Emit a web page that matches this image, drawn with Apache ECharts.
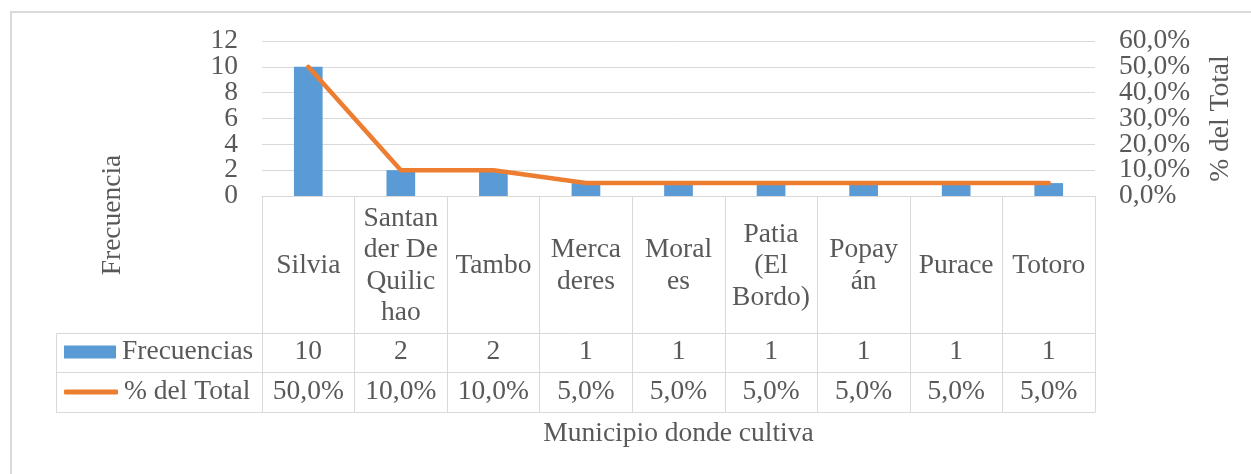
<!DOCTYPE html>
<html>
<head>
<meta charset="utf-8">
<title>Municipio donde cultiva</title>
<script src="https://cdn.jsdelivr.net/npm/echarts@6/dist/echarts.min.js"></script>
<style>
    html, body { margin: 0; padding: 0; background: #fff; }
    #chart { width: 1251px; height: 474px; }
</style>
</head>
<body>
<div id="chart"></div>
<script>
// Datos
const categorias = ['Silvia', 'Santan\nder De\nQuilic\nhao', 'Tambo', 'Merca\nderes', 'Moral\nes', 'Patia\n(El\nBordo)', 'Popay\nán', 'Purace', 'Totoro'];
const frecuencias = [10, 2, 2, 1, 1, 1, 1, 1, 1];
const porcentajes = [50, 10, 10, 5, 5, 5, 5, 5, 5];

// ejes
const leftTicks = [0, 12, 2];   // min, max, interval
const rightTicks = [0, 60, 10];
const leftLabels = ['0', '2', '4', '6', '8', '10', '12'];
const rightLabels = ['0,0%', '10,0%', '20,0%', '30,0%', '40,0%', '50,0%', '60,0%'];

function pct(v) {
    return v.toFixed(1).replace('.', ',') + '%';
}

function initChart() {
    const chartDom = document.getElementById('chart');
    const myChart = echarts.init(chartDom);

    const txt = '#595959';
    const lineCol = '#d9d9d9';
    const font = 'Liberation Serif, Times New Roman, serif';
    const fs = 27.5;

    // area del grafico (pixeles)
    const L = 262, R = 1095, T = 41, B = 196;
    const rows = [333, 372, 412];

    // eje de etiquetas (categoria) para que se muestren todas aunque se toquen
    function labelAxis(labels, pos) {
        return {
            type: 'category',
            data: labels,
            position: pos,
            boundaryGap: false,
            axisLine: { show: false },
            axisTick: { show: false },
            splitLine: { show: false },
            axisLabel: { interval: 0, margin: 24, fontSize: fs, color: txt, fontFamily: font }
        };
    }

    const option = {
        textStyle: { fontFamily: font },
        backgroundColor: '#fff',
        animation: false,
        grid: {
            left: L,
            right: 1251 - R,
            top: T,
            bottom: 474 - B,
            containLabel: false,
            outerBoundsMode: 'none'
        },
        legend: [
            {
                data: [{ name: 'Frecuencias', icon: 'rect' }],
                left: 64,
                top: 338,
                padding: 0,
                itemWidth: 52,
                itemHeight: 13,
                selectedMode: false,
                textStyle: { fontSize: fs, color: txt, fontFamily: font, lineHeight: 28, padding: [0, 0, 0, 1] }
            },
            {
                data: [{ name: '% del Total', icon: 'roundRect' }],
                left: 64,
                top: 378,
                padding: 0,
                itemWidth: 54,
                itemHeight: 5,
                selectedMode: false,
                textStyle: { fontSize: fs, color: txt, fontFamily: font, lineHeight: 28, padding: [0, 0, 0, 1] }
            }
        ],
        xAxis: [
            {
                // fila de categorias + lineas verticales de la tabla
                type: 'category',
                data: categorias,
                position: 'bottom',
                name: 'Municipio donde cultiva',
                nameLocation: 'middle',
                nameGap: 224,
                nameTextStyle: { fontSize: fs, color: txt, fontFamily: font },
                axisLine: { lineStyle: { color: lineCol, width: 1 } },
                axisTick: { show: true, length: rows[2] - B, lineStyle: { color: lineCol, width: 1 } },
                axisLabel: {
                    interval: 0,
                    margin: 70,
                    verticalAlign: 'middle',
                    fontSize: fs,
                    lineHeight: 31.5,
                    color: txt,
                    fontFamily: font
                }
            },
            {
                // fila Frecuencias
                type: 'category',
                data: categorias,
                position: 'bottom',
                axisLine: { show: false },
                axisTick: { show: false },
                axisLabel: {
                    interval: 0,
                    margin: 156,
                    verticalAlign: 'middle',
                    fontSize: fs,
                    color: txt,
                    fontFamily: font,
                    formatter: function (v, i) { return String(frecuencias[i]); }
                }
            },
            {
                // fila % del Total
                type: 'category',
                data: categorias,
                position: 'bottom',
                axisLine: { show: false },
                axisTick: { show: false },
                axisLabel: {
                    interval: 0,
                    margin: 196,
                    verticalAlign: 'middle',
                    fontSize: fs,
                    color: txt,
                    fontFamily: font,
                    formatter: function (v, i) { return pct(porcentajes[i]); }
                }
            }
        ],
        yAxis: [
            {
                type: 'value',
                position: 'left',
                min: leftTicks[0],
                max: leftTicks[1],
                interval: leftTicks[2],
                axisLine: { show: false },
                axisTick: { show: false },
                axisLabel: { show: false },
                splitLine: { lineStyle: { color: lineCol, width: 1 } }
            },
            {
                type: 'value',
                position: 'right',
                min: rightTicks[0],
                max: rightTicks[1],
                interval: rightTicks[2],
                name: '% del Total',
                nameLocation: 'middle',
                nameGap: 112,
                nameTextStyle: { fontSize: fs, color: txt, fontFamily: font },
                axisLine: { show: false },
                axisTick: { show: false },
                axisLabel: { show: false },
                splitLine: { show: false }
            },
            labelAxis(leftLabels, 'left'),
            labelAxis(rightLabels, 'right')
        ],
        series: [
            {
                name: 'Frecuencias',
                type: 'bar',
                data: frecuencias,
                barWidth: '31%',
                itemStyle: { color: '#5b9bd5' }
            },
            {
                name: '% del Total',
                type: 'line',
                yAxisIndex: 1,
                data: porcentajes,
                showSymbol: false,
                symbol: 'none',
                itemStyle: { color: '#ed7d31' },
                lineStyle: { color: '#ed7d31', width: 4.5, cap: 'round', join: 'round' },
                z: 3
            }
        ],
        graphic: [
            // marco exterior
            {
                type: 'rect',
                silent: true,
                shape: { x: 11, y: 12, width: 1400, height: 700 },
                style: { fill: null, stroke: lineCol, lineWidth: 2 }
            },
            // titulo eje izquierdo
            {
                type: 'text',
                x: 113,
                y: 215,
                rotation: Math.PI / 2,
                style: {
                    text: 'Frecuencia',
                    fontSize: fs,
                    fontFamily: font,
                    fill: txt,
                    align: 'center',
                    verticalAlign: 'middle'
                }
            },
            // lineas horizontales de la tabla
            ...rows.map(y => ({
                type: 'line',
                silent: true,
                shape: { x1: 56, y1: y + 0.5, x2: R + 0.5, y2: y + 0.5 },
                style: { stroke: lineCol, lineWidth: 1 }
            })),
            {
                type: 'line',
                silent: true,
                shape: { x1: 56.5, y1: rows[0], x2: 56.5, y2: rows[2] + 1 },
                style: { stroke: lineCol, lineWidth: 1 }
            }
        ]
    };

    myChart.setOption(option);
    return myChart;
}

initChart();
</script>
</body>
</html>
